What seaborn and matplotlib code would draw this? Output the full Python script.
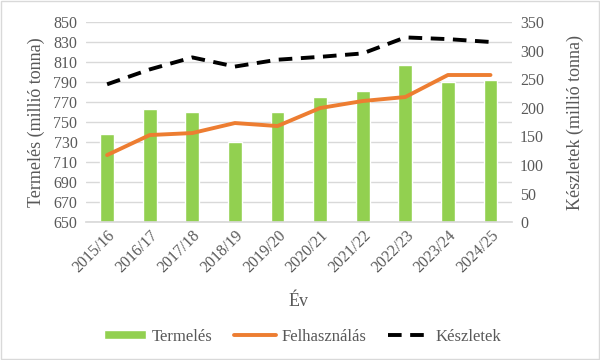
import matplotlib

matplotlib.use("Agg")
import matplotlib.pyplot as plt  # noqa: E402
import seaborn as sns  # noqa: E402
import pandas as pd  # noqa: E402
from matplotlib.patches import Rectangle  # noqa: E402

years = ["2015/16", "2016/17", "2017/18", "2018/19", "2019/20",
         "2020/21", "2021/22", "2022/23", "2023/24", "2024/25"]
termeles = [738, 763, 760, 730, 760, 775, 781, 807, 790, 792]
felhasznalas = [717, 737, 739, 749, 746, 764, 771, 775, 797, 797]
keszletek = [241, 267, 288, 272, 284, 289, 295, 323, 320, 315]

df = pd.DataFrame({"Év": years, "Termelés": termeles,
                   "Felhasználás": felhasznalas, "Készletek": keszletek})

sns.set_theme(style="white")
plt.rcParams["font.family"] = ["Liberation Serif", "DejaVu Serif"]
txt = "#595959"

fig = plt.figure(figsize=(6, 3.6), dpi=100)
ax = fig.add_axes([0.143, 0.383, 0.71, 0.556])

sns.barplot(data=df, x="Év", y="Termelés", color="#92D050", width=0.32,
            saturation=1, ax=ax, label="Termelés", zorder=2)
sns.lineplot(x=range(len(years)), y=df["Felhasználás"], color="#ED7D31",
             linewidth=2.8, ax=ax, label="Felhasználás", zorder=3)

ax2 = ax.twinx()
sns.lineplot(x=range(len(years)), y=df["Készletek"], color="black",
             linewidth=2.8, ax=ax2, label="Készletek", zorder=3)
ax2.lines[0].set_dashes((3.5, 2.2))

ax.set_ylim(650, 850)
ax.set_yticks(range(650, 851, 20))
ax2.set_ylim(0, 350)
ax2.set_yticks(range(0, 351, 50))
ax.set_xlim(-0.5, len(years) - 0.5)

ax.yaxis.grid(True, color="#d9d9d9", linewidth=1)
ax.set_axisbelow(True)
for a in (ax, ax2):
    for s in a.spines.values():
        s.set_visible(False)
    a.tick_params(length=0, labelsize=11.5, colors=txt, pad=6)
ax.spines["bottom"].set_visible(True)
ax.spines["bottom"].set_color("#d9d9d9")

ax.set_xticks(range(len(years)))
ax.set_xticklabels(years, rotation=45, ha="right", rotation_mode="anchor")
ax.tick_params(axis="x", pad=4)

ax.set_xlabel("Év", fontsize=13, color=txt, labelpad=12)
ax.set_ylabel("Termelés (millió tonna)", fontsize=13, color=txt, labelpad=6)
ax2.set_ylabel("Készletek (millió tonna)", fontsize=13, color=txt, labelpad=16)

h1, l1 = ax.get_legend_handles_labels()
h2, l2 = ax2.get_legend_handles_labels()
handles = dict(zip(l1 + l2, h1 + h2))
order = ["Termelés", "Felhasználás", "Készletek"]
for a in (ax, ax2):
    if a.get_legend():
        a.get_legend().remove()
leg = fig.legend([handles[k] for k in order], order, loc="center",
                 bbox_to_anchor=(0.505, 0.065), ncol=3, frameon=False,
                 fontsize=12, handlelength=2.5, handletextpad=0.35,
                 columnspacing=1.3, handleheight=0.5, labelcolor=txt)

fig.patches.append(Rectangle((0.002, 0.003), 0.996, 0.994, transform=fig.transFigure,
                             fill=False, edgecolor="#d9d9d9", linewidth=1))

fig.savefig("out.png", dpi=100)
plt.close(fig)
